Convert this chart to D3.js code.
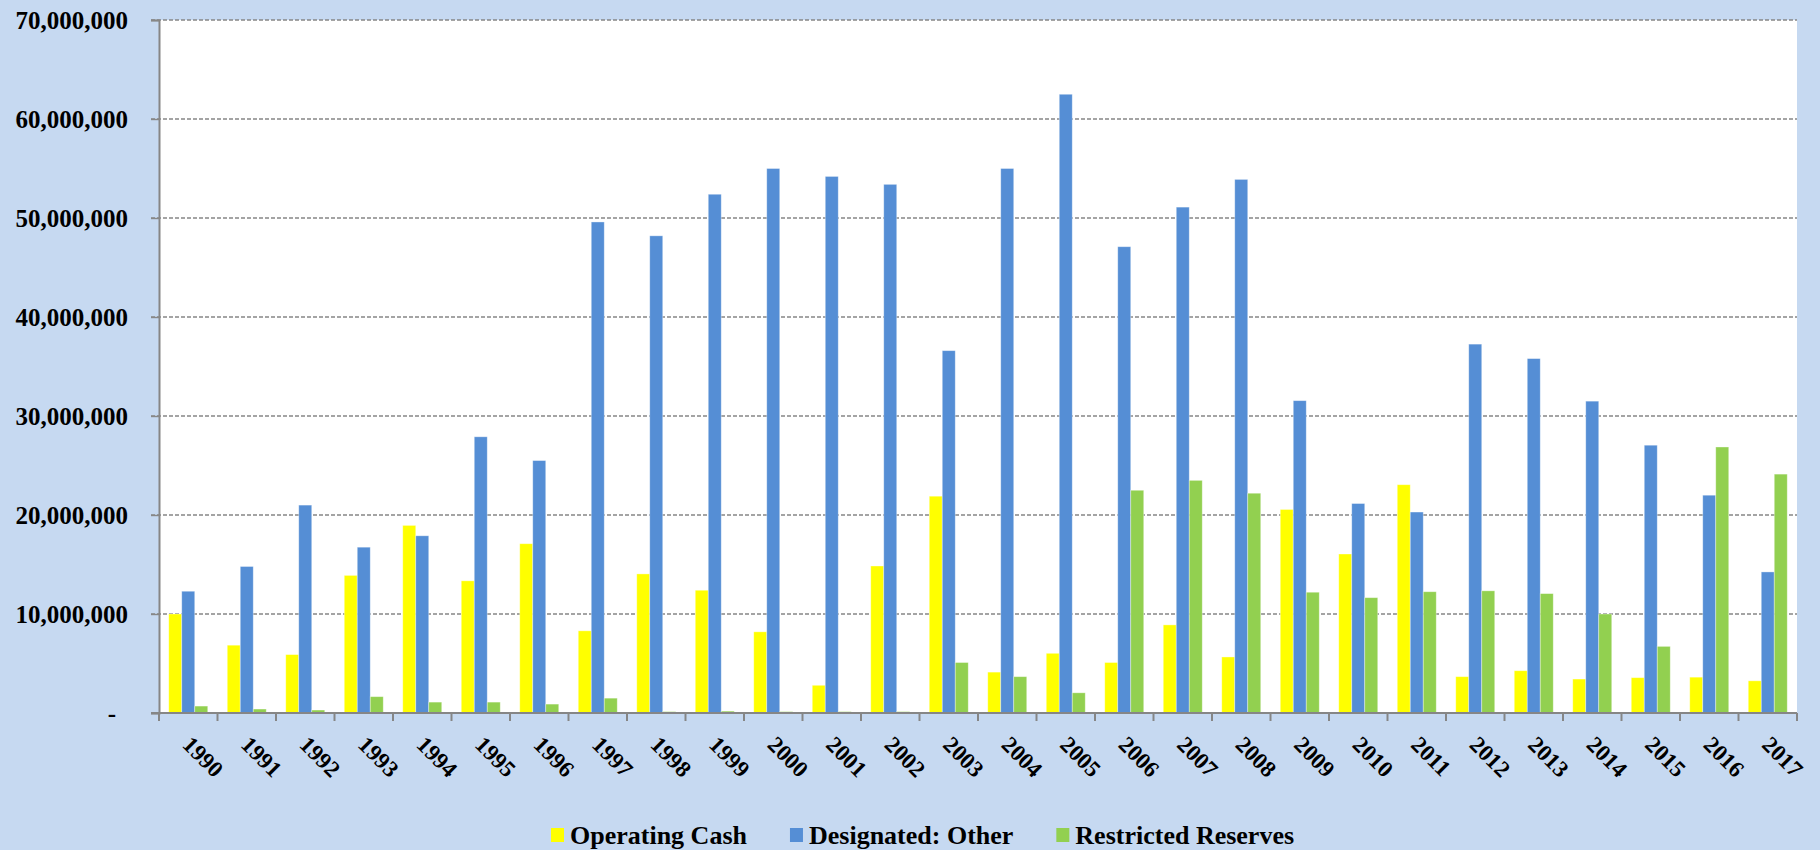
<!DOCTYPE html>
<html>
<head>
<meta charset="utf-8">
<script src="https://cdn.jsdelivr.net/npm/d3@7"></script>
<style>
  html, body { margin: 0; padding: 0; background: #C6D9F1; }
  svg { display: block; }
  text { font-family: "Liberation Serif", "DejaVu Serif", serif; font-weight: bold; fill: #000; }
</style>
</head>
<body>
<script>
// years on the x axis
var years = ["1990","1991","1992","1993","1994","1995","1996","1997","1998","1999",
             "2000","2001","2002","2003","2004","2005","2006","2007","2008","2009",
             "2010","2011","2012","2013","2014","2015","2016","2017"];

var seriesNames = ["Operating Cash", "Designated: Other", "Restricted Reserves"];

var operatingCash = [10000000, 6850000, 5900000, 13900000, 18950000, 13350000, 17100000, 8300000, 14050000, 12400000,
                     8200000, 2800000, 14850000, 21900000, 4130000, 6030000, 5100000, 8900000, 5660000, 20560000,
                     16060000, 23060000, 3670000, 4270000, 3430000, 3570000, 3620000, 3250000];

var designatedOther = [12300000, 14800000, 21000000, 16750000, 17900000, 27900000, 25500000, 49600000, 48200000, 52400000,
                       55000000, 54200000, 53400000, 36600000, 55000000, 62500000, 47100000, 51100000, 53900000, 31550000,
                       21160000, 20300000, 37260000, 35800000, 31500000, 27050000, 22000000, 14250000];

var restrictedReserves = [700000, 400000, 300000, 1650000, 1100000, 1100000, 900000, 1500000, 140000, 190000,
                          140000, 140000, 140000, 5100000, 3670000, 2040000, 22500000, 23500000, 22200000, 12200000,
                          11650000, 12250000, 12340000, 12060000, 10000000, 6730000, 26870000, 24130000];

var yTicks = [0, 10000000, 20000000, 30000000, 40000000, 50000000, 60000000, 70000000];

var colors = ["#FFFF00", "#558ED5", "#92D050"];

var W = 1820, H = 850;
var plotLeft = 159, plotRight = 1797, plotTop = 20, plotBottom = 713;

var table = years.map(function(yr, i) {
  return { year: yr, values: [operatingCash[i], designatedOther[i], restrictedReserves[i]] };
});

var svg = d3.select("body").append("svg").attr("width", W).attr("height", H);

svg.append("rect").attr("width", W).attr("height", H).attr("fill", "#C6D9F1");
svg.append("rect").attr("x", plotLeft).attr("y", plotTop)
   .attr("width", plotRight - plotLeft).attr("height", plotBottom - plotTop).attr("fill", "#FFFFFF");

var x0 = d3.scaleBand().domain(years).range([plotLeft, plotRight]).padding(0);
var x1 = d3.scaleBand().domain([0, 1, 2]).range([0, x0.bandwidth()]).paddingInner(0).paddingOuter(0.75);
var y = d3.scaleLinear().domain([0, 70000000]).range([plotBottom, plotTop]);

// gridlines
svg.append("g").selectAll("line.grid")
   .data(yTicks.filter(function(d) { return d > 0; }))
   .enter().append("line")
   .attr("class", "grid")
   .attr("x1", plotLeft - 8).attr("x2", plotRight)
   .attr("y1", function(d) { return y(d); }).attr("y2", function(d) { return y(d); })
   .attr("stroke", "#878787").attr("stroke-width", 1.4)
   .attr("stroke-dasharray", "4,2");

// bars
var groups = svg.append("g").selectAll("g.year")
   .data(table)
   .enter().append("g")
   .attr("class", "year")
   .attr("transform", function(d) { return "translate(" + x0(d.year) + ",0)"; });

groups.selectAll("rect")
   .data(function(d) { return d.values; })
   .enter().append("rect")
   .attr("x", function(d, i) { return x1(i); })
   .attr("y", function(d) { return y(d); })
   .attr("width", x1.bandwidth())
   .attr("height", function(d) { return plotBottom - y(d); })
   .attr("fill", function(d, i) { return colors[i]; })
   .attr("stroke", "rgba(255,255,255,0.45)")
   .attr("stroke-width", 0.8);

// y axis
var yAxis = svg.append("g")
   .attr("transform", "translate(" + plotLeft + ",0)")
   .call(d3.axisLeft(y).tickValues(yTicks).tickSize(8).tickPadding(23)
         .tickFormat(function(d) { return d === 0 ? "-" : d3.format(",")(d); }));
yAxis.select(".domain").attr("stroke", "#868686").attr("stroke-width", 2);
yAxis.selectAll(".tick line").attr("stroke", "#878787").attr("stroke-width", 1.4);
yAxis.selectAll(".tick text").style("font-size", "25px").attr("dy", "0.34em");
yAxis.selectAll(".tick text").filter(function(d) { return d === 0; }).attr("x", -43);

// x axis
var xAxis = svg.append("g")
   .attr("transform", "translate(0," + plotBottom + ")")
   .call(d3.axisBottom(x0).tickSize(0).tickFormat(""));
xAxis.select(".domain").attr("stroke", "#868686").attr("stroke-width", 2)
   .attr("d", "M" + (plotLeft - 8) + ",0H" + plotRight);

svg.append("g").selectAll("line.xtick")
   .data(years.concat(["end"]))
   .enter().append("line")
   .attr("class", "xtick")
   .attr("x1", function(d) { return d === "end" ? plotRight : x0(d); })
   .attr("x2", function(d) { return d === "end" ? plotRight : x0(d); })
   .attr("y1", plotBottom).attr("y2", plotBottom + 8)
   .attr("stroke", "#868686").attr("stroke-width", 2);

svg.append("g").selectAll("text.xlab")
   .data(years)
   .enter().append("text")
   .attr("class", "xlab")
   .attr("transform", function(d) {
     return "translate(" + (x0(d) + x0.bandwidth() / 2 - 7) + "," + (plotBottom + 33) + ") rotate(45)";
   })
   .style("font-size", "23px")
   .text(function(d) { return d; });

// legend
var legend = svg.append("g").attr("transform", "translate(551,835)");
var lx = 0;
seriesNames.forEach(function(name, i) {
  var item = legend.append("g").attr("transform", "translate(" + lx + ",0)");
  item.append("rect").attr("x", 0).attr("y", -7).attr("width", 13).attr("height", 14)
      .attr("fill", colors[i]);
  var t = item.append("text").attr("x", 19).attr("dy", "0.35em")
      .style("font-size", "26px").text(name);
  lx += 19 + t.node().getComputedTextLength() + 43;
});
</script>
</body>
</html>
